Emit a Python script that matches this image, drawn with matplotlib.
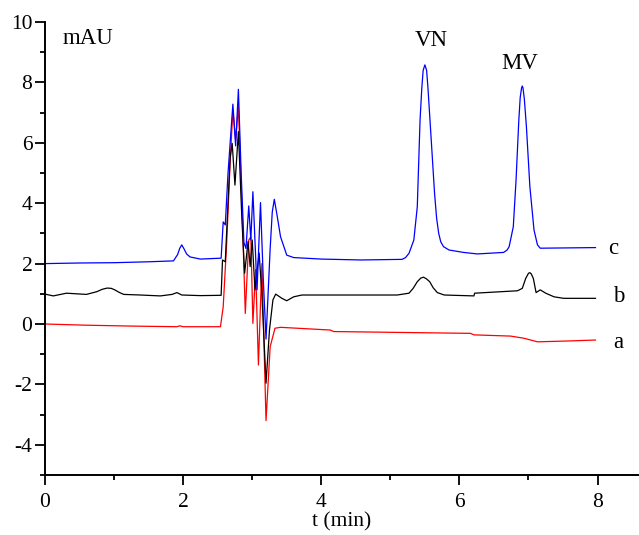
import matplotlib
matplotlib.use("Agg")
import matplotlib.pyplot as plt
from matplotlib.ticker import MultipleLocator

# Trace c (blue)
t_c = [0, 0.5, 1.0, 1.5, 1.86, 1.92, 1.95, 1.98, 2.01, 2.05, 2.1, 2.25, 2.55, 2.58, 2.61, 2.65, 2.72, 2.76,
       2.80, 2.84, 2.88, 2.91, 2.95, 2.98, 3.01, 3.07, 3.12, 3.16, 3.20, 3.26, 3.29, 3.32, 3.36, 3.41,
       3.50, 3.60, 4.0, 4.57, 5.17, 5.22, 5.27, 5.34, 5.39, 5.43, 5.455, 5.475, 5.50, 5.525, 5.545,
       5.58, 5.64, 5.67, 5.70, 5.73, 5.77, 5.85, 6.06, 6.26, 6.64, 6.69, 6.72, 6.78, 6.82, 6.86, 6.88,
       6.90, 6.91, 6.92, 6.94, 6.97, 7.02, 7.08, 7.13, 7.17, 7.97]
y_c = [2.00, 2.02, 2.03, 2.06, 2.09, 2.3, 2.5, 2.62, 2.5, 2.32, 2.22, 2.15, 2.18, 3.38, 3.28, 5.0, 7.28, 5.9,
       7.77, 5.0, 2.7, 2.5, 3.91, 2.78, 4.38, 1.13, 4.02, 1.5, -0.5, 2.5, 3.7, 4.13, 3.6, 2.89,
       2.28, 2.20, 2.15, 2.12, 2.14, 2.2, 2.34, 2.78, 3.88, 6.75, 7.8, 8.4, 8.58, 8.4, 7.8,
       6.53, 4.33, 3.5, 3.0, 2.72, 2.56, 2.45, 2.37, 2.32, 2.37, 2.45, 2.56, 3.22, 4.77, 6.75, 7.5,
       7.82, 7.88, 7.82, 7.45, 6.53, 4.55, 3.11, 2.62, 2.51, 2.53]

# Trace b (black)
t_b = [0, 0.12, 0.31, 0.6, 0.75, 0.83, 0.90, 0.96, 1.01, 1.08, 1.14, 1.38, 1.67, 1.84, 1.91, 1.98, 2.25,
       2.55, 2.57, 2.61, 2.68, 2.71, 2.75, 2.80, 2.85, 2.89, 2.94, 2.97, 3.00, 3.04, 3.10, 3.14, 3.20,
       3.25, 3.30, 3.34, 3.43, 3.50, 3.60, 3.72, 5.10, 5.27, 5.33, 5.39, 5.44, 5.48, 5.52, 5.57, 5.62,
       5.68, 5.78, 6.21, 6.22, 6.84, 6.91, 6.96, 7.0, 7.02, 7.04, 7.07, 7.11, 7.17, 7.25, 7.37, 7.51, 7.97]
y_b = [0.99, 0.93, 1.02, 0.98, 1.07, 1.15, 1.19, 1.18, 1.13, 1.04, 0.98, 0.96, 0.93, 0.98, 1.04, 0.96, 0.94,
       0.95, 2.12, 2.06, 5.5, 5.98, 4.6, 6.37, 3.5, 1.68, 2.73, 1.9, 2.78, 1.13, 2.35, 1.0, -1.96,
       -0.2, 0.8, 0.99, 0.85, 0.77, 0.9, 0.96, 0.96, 1.02, 1.18, 1.40, 1.52, 1.55, 1.50, 1.40, 1.2,
       1.04, 0.96, 0.93, 1.02, 1.10, 1.18, 1.51, 1.68, 1.70, 1.66, 1.51, 1.04, 1.13, 1.02, 0.90, 0.85, 0.85]

# Trace a (red)
t_a = [0, 0.6, 1.28, 1.91, 1.95, 2.0, 2.54, 2.58, 2.63, 2.68, 2.72, 2.76, 2.80, 2.86, 2.90, 2.95,
       2.98, 3.01, 3.05, 3.09, 3.14, 3.20, 3.26, 3.33, 3.41, 4.13, 4.18, 6.16, 6.21, 6.74, 6.93,
       7.13, 7.61, 7.97]
y_a = [0.0, -0.04, -0.07, -0.09, -0.06, -0.09, -0.09, 0.57, 2.67, 5.32, 7.09, 6.09, 7.2, 3.33, 0.35, 2.78,
       2.89, 0.02, 1.8, -1.36, 2.0, -3.2, -0.75, -0.14, -0.11, -0.2, -0.25, -0.31, -0.36, -0.4, -0.47,
       -0.59, -0.56, -0.53]

xticks = [0, 2, 4, 6, 8]
yticks = [-4, -2, 0, 2, 4, 6, 8, 10]

plt.rcParams['font.family'] = ['Liberation Serif', 'DejaVu Serif']
plt.rcParams['axes.unicode_minus'] = False

fig = plt.figure(figsize=(6.39, 5.35), dpi=100)
ax = fig.add_axes([45/639, 60/535, 1 - 45/639, 453/535])

ax.plot(t_a, y_a, color='#ff0000', lw=0.9)
ax.plot(t_b, y_b, color='#000000', lw=0.9)
ax.plot(t_c, y_c, color='#0000ff', lw=0.9)

ax.set_xlim(0, 8.6)
ax.set_ylim(-5, 10)
ax.set_xticks(xticks)
ax.set_yticks(yticks)
ax.xaxis.set_minor_locator(MultipleLocator(1))
ax.yaxis.set_minor_locator(MultipleLocator(1))
for s in ['top', 'right']:
    ax.spines[s].set_visible(False)
for s in ['left', 'bottom']:
    ax.spines[s].set_linewidth(1.4)
ax.tick_params(which='major', direction='out', length=7, width=1.3, labelsize=15.5)
ax.tick_params(which='minor', direction='out', length=3.6, width=1.3)
ax.tick_params(axis='y', which='major', pad=2)
ax.tick_params(axis='x', which='major', pad=6)
ax.set_xlabel('t (min)', fontsize=15.5, labelpad=0)

ax.text(0.62, 9.47, 'mAU', fontsize=16.5, ha='center', va='center')
ax.text(5.6, 9.4, 'VN', fontsize=16.5, ha='center', va='center')
ax.text(6.87, 8.64, 'MV', fontsize=16.5, ha='center', va='center')
ax.text(8.22, 2.5, 'c', fontsize=16.5, ha='center', va='center')
ax.text(8.3, 0.9, 'b', fontsize=16.5, ha='center', va='center')
ax.text(8.3, -0.6, 'a', fontsize=16.5, ha='center', va='center')

fig.savefig('out.png', dpi=100)
